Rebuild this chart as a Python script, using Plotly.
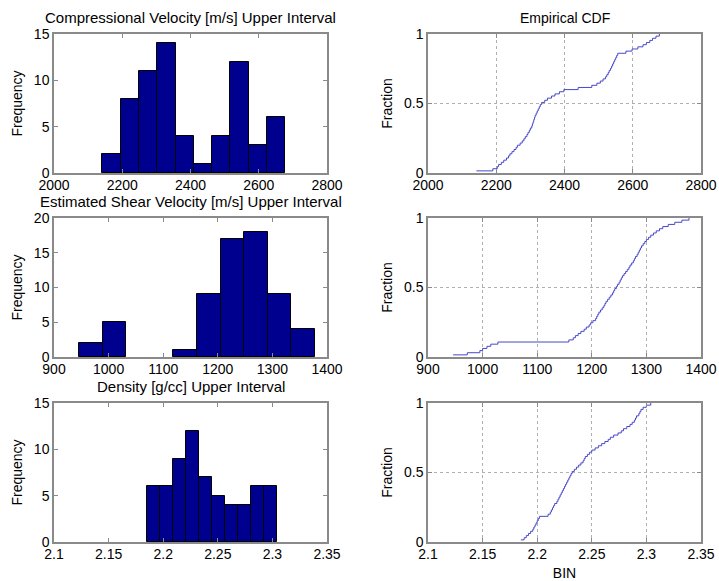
import numpy as np
import plotly.graph_objects as go

# ---- data: sample values (sorted) read from the empirical CDFs / histograms ----
vp_upper = [2142, 2190,
            2203, 2207, 2215, 2222, 2230, 2236, 2240, 2246,
            2252, 2258, 2262, 2270, 2276, 2281, 2285, 2290, 2293, 2297, 2300,
            2304, 2306, 2308, 2310, 2312, 2314, 2317, 2320, 2323, 2326, 2329, 2333, 2342, 2350,
            2362, 2372, 2385, 2398,
            2440,
            2480, 2495, 2505, 2513,
            2520, 2524, 2528, 2531, 2535, 2538, 2541, 2544, 2547, 2550, 2553, 2556,
            2580, 2598, 2615,
            2630, 2640, 2650, 2658, 2668, 2678]

vs_upper = [946, 972,
            995, 1000, 1008, 1015, 1028,
            1158,
            1166, 1170, 1175, 1180, 1186, 1190, 1195, 1198, 1202,
            1207, 1209, 1211, 1213, 1216, 1219, 1222, 1224, 1226, 1229, 1232, 1235, 1238, 1240, 1242, 1245, 1247,
            1250, 1252, 1254, 1256, 1259, 1262, 1265, 1268, 1270, 1273, 1276, 1278, 1280, 1283, 1285, 1287, 1289, 1291,
            1294, 1297, 1300, 1304, 1308, 1313, 1318, 1324, 1330,
            1340, 1352, 1365, 1378]

rho_upper = [2.185, 2.188, 2.190, 2.192, 2.194, 2.196,
             2.197, 2.198, 2.199, 2.200, 2.201, 2.202,
             2.210, 2.212, 2.213, 2.214, 2.215, 2.216, 2.218, 2.219, 2.220,
             2.221, 2.222, 2.223, 2.224, 2.225, 2.226, 2.227, 2.228, 2.229, 2.230, 2.231, 2.232,
             2.234, 2.236, 2.238, 2.240, 2.242, 2.243, 2.244,
             2.246, 2.248, 2.250, 2.253, 2.256,
             2.259, 2.262, 2.265, 2.267,
             2.270, 2.274, 2.277, 2.279,
             2.282, 2.285, 2.287, 2.289, 2.290, 2.291,
             2.293, 2.294, 2.295, 2.297, 2.300, 2.304]

titles = ["Compressional Velocity [m/s] Upper Interval",
          "Estimated Shear Velocity [m/s] Upper Interval",
          "Density [g/cc] Upper Interval"]
x_ranges = [[2000, 2800], [900, 1400], [2.1, 2.35]]
x_ticks = [[2000, 2200, 2400, 2600, 2800],
           [900, 1000, 1100, 1200, 1300, 1400],
           [2.1, 2.15, 2.2, 2.25, 2.3, 2.35]]
x_ticklabels = [["2000", "2200", "2400", "2600", "2800"],
                ["900", "1000", "1100", "1200", "1300", "1400"],
                ["2.1", "2.15", "2.2", "2.25", "2.3", "2.35"]]
freq_ranges = [[0, 15], [0, 20], [0, 15]]
freq_ticks = [[0, 5, 10, 15], [0, 5, 10, 15, 20], [0, 5, 10, 15]]
frac_ticks = [0, 0.5, 1]
frac_ticklabels = ["0", "0.5", "1"]
n_bins = 10

datasets = [vp_upper, vs_upper, rho_upper]

# ---- layout geometry ----
W, H = 719, 581
left_dom = [54 / W, 327 / W]
right_dom = [428 / W, 701 / W]
rows_px = [(34, 173), (218, 357), (403, 542)]
row_dom = [[1 - b / H, 1 - t / H] for t, b in rows_px]

FONT = "Liberation Sans, Arial, sans-serif"
AX = "#8a8a8a"

fig = go.Figure()
layout = {}
annotations = []

for i, data in enumerate(datasets):
    arr = np.array(data, dtype=float)
    counts, edges = np.histogram(arr, bins=n_bins)
    centers = (edges[:-1] + edges[1:]) / 2
    width = edges[1] - edges[0]

    xa_h = f"x{2*i+1}"
    ya_h = f"y{2*i+1}"
    xa_c = f"x{2*i+2}"
    ya_c = f"y{2*i+2}"

    fig.add_trace(go.Bar(x=centers, y=counts, width=width,
                         marker=dict(color="#00008f",
                                     line=dict(color="black", width=[1 if c > 0 else 0 for c in counts])),
                         xaxis=xa_h, yaxis=ya_h, showlegend=False))

    xs = np.sort(arr)
    frac = np.arange(1, len(xs) + 1) / len(xs)
    fig.add_trace(go.Scatter(x=xs, y=frac, mode="lines", line=dict(color="#4848c8", width=1, shape="hv"),
                             xaxis=xa_c, yaxis=ya_c, showlegend=False))

    common_x = dict(range=x_ranges[i], tickvals=x_ticks[i], ticktext=x_ticklabels[i],
                    showline=True, linecolor=AX, linewidth=1.5, mirror="ticks",
                    ticks="inside", ticklen=4, tickcolor=AX, zeroline=False, automargin=False,
                    ticklabelstandoff=-2,
                    tickfont=dict(family=FONT, size=14, color="black"))
    common_y = dict(showline=True, linecolor=AX, linewidth=1.5, mirror="ticks",
                    ticks="inside", ticklen=4, tickcolor=AX, zeroline=False, automargin=False,
                    tickfont=dict(family=FONT, size=14, color="black"))

    n1 = "" if i == 0 else str(2 * i + 1)
    n2 = str(2 * i + 2)
    layout[f"xaxis{n1}"] = dict(domain=left_dom, anchor=ya_h, showgrid=False, **common_x)
    layout[f"yaxis{n1}"] = dict(domain=row_dom[i], anchor=xa_h, range=freq_ranges[i],
                                tickvals=freq_ticks[i], showgrid=False,
                                title=dict(text="Frequency", font=dict(family=FONT, size=14, color="black"),
                                           standoff=8),
                                **common_y)
    layout[f"xaxis{n2}"] = dict(domain=right_dom, anchor=ya_c, showgrid=True, gridcolor="#b0b0b0",
                                griddash="dot", gridwidth=1, **common_x)
    layout[f"yaxis{n2}"] = dict(domain=row_dom[i], anchor=xa_c, range=[0, 1],
                                tickvals=frac_ticks, ticktext=frac_ticklabels,
                                showgrid=True, gridcolor="#b0b0b0", griddash="dot", gridwidth=1,
                                title=dict(text="Fraction", font=dict(family=FONT, size=14, color="black"),
                                           standoff=8),
                                **common_y)

    annotations.append(dict(text=titles[i], x=sum(left_dom) / 2, y=row_dom[i][1],
                            xref="paper", yref="paper", xanchor="center", yanchor="bottom",
                            yshift=6, showarrow=False,
                            font=dict(family=FONT, size=15, color="black")))

annotations.append(dict(text="Empirical CDF", x=sum(right_dom) / 2, y=row_dom[0][1],
                        xref="paper", yref="paper", xanchor="center", yanchor="bottom",
                        yshift=6, showarrow=False, font=dict(family=FONT, size=14, color="black")))
layout["xaxis6"]["title"] = dict(text="BIN", font=dict(family=FONT, size=14, color="black"), standoff=8)

fig.update_layout(width=W, height=H, margin=dict(l=0, r=0, t=0, b=0),
                  paper_bgcolor="white", plot_bgcolor="white", bargap=0,
                  annotations=annotations, **layout)

fig.write_html("out.html", config={"displayModeBar": False},
               post_script="document.body.style.margin='0';document.body.style.overflow='hidden';")
